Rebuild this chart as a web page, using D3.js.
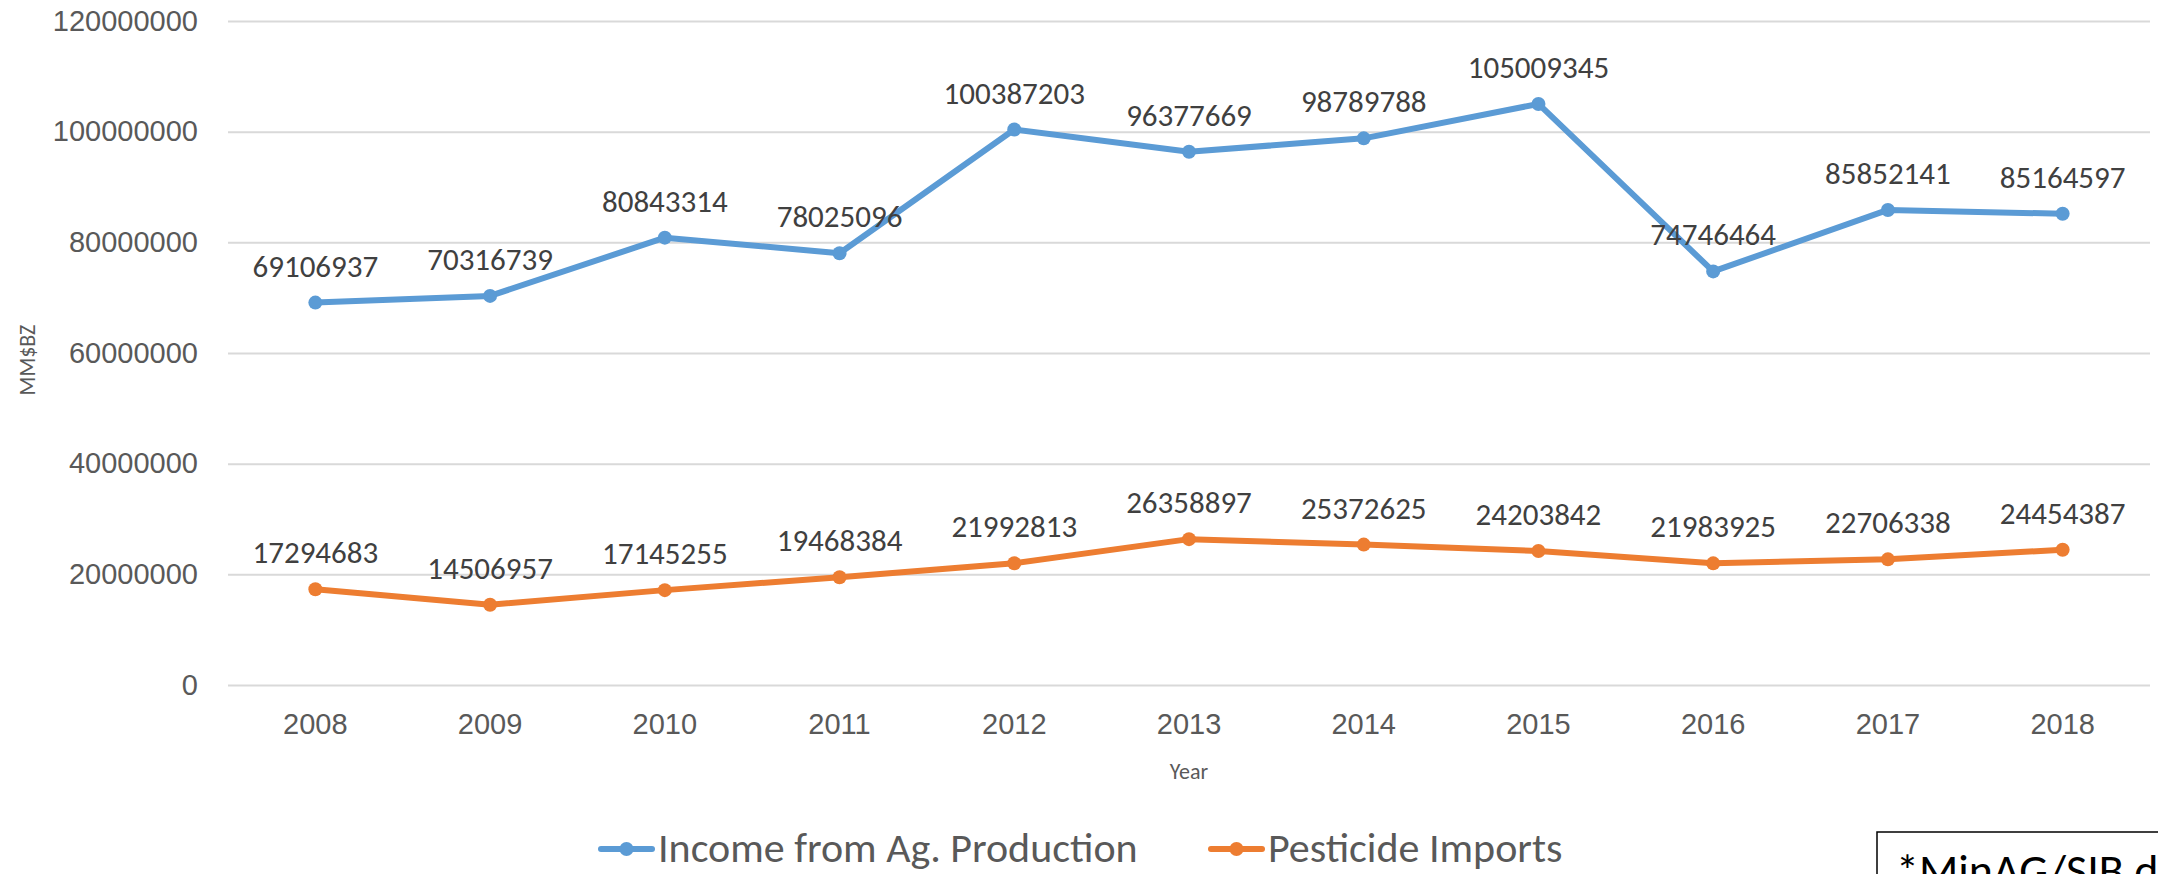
<!DOCTYPE html>
<html>
<head>
<meta charset="utf-8">
<script src="https://cdn.jsdelivr.net/npm/d3@7"></script>
<style>
  html, body { margin: 0; padding: 0; background: #fff; overflow: hidden; }
  svg { display: block; font-family: Carlito, Calibri, Lato, "Open Sans", sans-serif; }
</style>
</head>
<body>
<svg id="chart" width="2158" height="874"></svg>
<script>
const years = ["2008","2009","2010","2011","2012","2013","2014","2015","2016","2017","2018"];
const incomeValues = [69106937, 70316739, 80843314, 78025096, 100387203, 96377669, 98789788, 105009345, 74746464, 85852141, 85164597];
const pesticideValues = [17294683, 14506957, 17145255, 19468384, 21992813, 26358897, 25372625, 24203842, 21983925, 22706338, 24454387];
const yTicks = [0, 20000000, 40000000, 60000000, 80000000, 100000000, 120000000];
const seriesNames = ["Income from Ag. Production", "Pesticide Imports"];
const seriesColors = ["#5B9BD5", "#ED7D31"];
const yAxisTitle = "MM$BZ";
const xAxisTitle = "Year";
const noteText = "*MinAG/SIB data";

const W = 2158, H = 874;
const margin = {left: 228, right: 8, top: 21, bottom: 189};
const svg = d3.select("#chart");

const x = d3.scaleBand().domain(years).range([margin.left, W - margin.right]).paddingInner(0).paddingOuter(0);
const y = d3.scaleLinear().domain([0, 120000000]).range([H - margin.bottom, margin.top]);
const cx = d => x(d) + x.bandwidth() / 2;

// gridlines + y tick labels
const yAxis = d3.axisLeft(y).tickValues(yTicks).tickSize(-(W - margin.right - margin.left)).tickPadding(30).tickFormat(d3.format("d"));
const gy = svg.append("g").attr("transform", `translate(${margin.left},0)`).call(yAxis);
gy.select(".domain").remove();
gy.selectAll(".tick line").attr("stroke", "#D9D9D9").attr("stroke-width", 2);
gy.selectAll(".tick text").attr("fill", "#595959").attr("font-size", 29).attr("font-family", null);

// x axis labels
const xAxis = d3.axisBottom(x).tickSize(0).tickPadding(28);
const gx = svg.append("g").attr("transform", `translate(0,${H - margin.bottom})`).call(xAxis);
gx.select(".domain").remove();
gx.selectAll(".tick text").attr("fill", "#595959").attr("font-size", 29).attr("font-family", null);

// axis titles
svg.append("text").attr("transform", `translate(35,360) rotate(-90)`).attr("text-anchor", "middle")
  .attr("fill", "#595959").attr("font-size", 22).text(yAxisTitle);
svg.append("text").attr("x", (margin.left + W - margin.right) / 2).attr("y", 779).attr("text-anchor", "middle")
  .attr("fill", "#595959").attr("font-size", 22).text(xAxisTitle);

const series = [incomeValues, pesticideValues];
const line = d3.line().x((d, i) => cx(years[i])).y(d => y(d));

series.forEach((vals, si) => {
  const g = svg.append("g");
  g.append("path").datum(vals).attr("d", line).attr("fill", "none")
    .attr("stroke", seriesColors[si]).attr("stroke-width", 6).attr("stroke-linejoin", "round").attr("stroke-linecap", "round");
  g.selectAll("circle").data(vals).join("circle")
    .attr("cx", (d, i) => cx(years[i])).attr("cy", d => y(d)).attr("r", 7).attr("fill", seriesColors[si]);
  g.selectAll("text").data(vals).join("text")
    .attr("x", (d, i) => cx(years[i])).attr("y", d => y(d) - 26)
    .attr("text-anchor", "middle").attr("fill", "#404040").attr("font-size", 31)
    .text(d => d);
});

// legend
const legendY = 849;
const legendItems = [{x: 601}, {x: 1211}];
legendItems.forEach((it, i) => {
  const g = svg.append("g");
  g.append("line").attr("x1", it.x).attr("x2", it.x + 51).attr("y1", legendY).attr("y2", legendY)
    .attr("stroke", seriesColors[i]).attr("stroke-width", 6).attr("stroke-linecap", "round");
  g.append("circle").attr("cx", it.x + 25.5).attr("cy", legendY).attr("r", 7).attr("fill", seriesColors[i]);
  g.append("text").attr("x", it.x + 57).attr("y", legendY + 13).attr("fill", "#595959").attr("font-size", 42).text(seriesNames[i]);
});

// note box (partially outside the picture, as in the reference)
svg.append("rect").attr("x", 1877).attr("y", 832).attr("width", 400).attr("height", 100)
  .attr("fill", "#fff").attr("stroke", "#000").attr("stroke-width", 1.5);
svg.append("text").attr("x", 1896).attr("y", 886).attr("fill", "#000").attr("font-size", 46).text(noteText);
</script>
</body>
</html>
